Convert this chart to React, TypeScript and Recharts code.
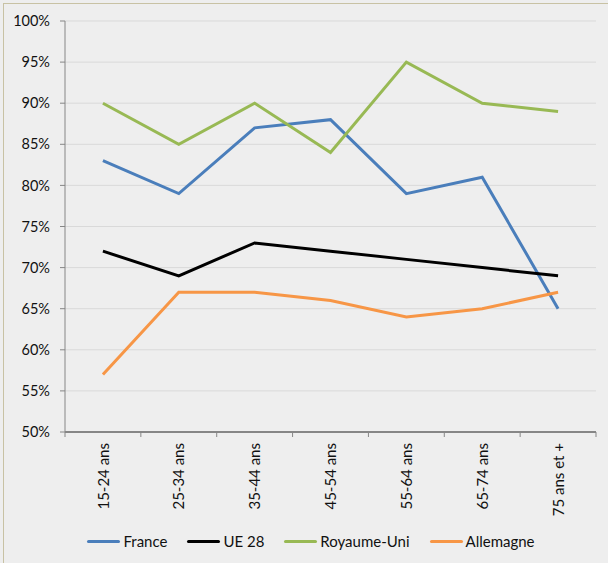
import { LineChart, Line, XAxis, YAxis, CartesianGrid, Legend } from "recharts"

const ageGroups = ["15-24 ans", "25-34 ans", "35-44 ans", "45-54 ans", "55-64 ans", "65-74 ans", "75 ans et +"]
const france = [83, 79, 87, 88, 79, 81, 65]
const ue28 = [72, 69, 73, 72, 71, 70, 69]
const royaumeUni = [90, 85, 90, 84, 95, 90, 89]
const allemagne = [57, 67, 67, 66, 64, 65, 67]
const yTicks = [50, 55, 60, 65, 70, 75, 80, 85, 90, 95, 100]

const seriesList = [
  { key: "France", values: france, color: "#4a7ebb" },
  { key: "UE 28", values: ue28, color: "#000000" },
  { key: "Royaume-Uni", values: royaumeUni, color: "#98b954" },
  { key: "Allemagne", values: allemagne, color: "#f79646" },
]

const data = ageGroups.map((label, i) => {
  const row: Record<string, string | number> = { label }
  seriesList.forEach((s) => (row[s.key] = s.values[i]))
  return row
})

const FONT = "Lato, 'Open Sans', sans-serif"

function AgeTick({ x, y, payload, index }: any) {
  const half = payload?.offset ?? 0
  return (
    <g>
      <line x1={x - half} x2={x - half} y1={y} y2={y + 5} stroke="#868686" />
      {index === ageGroups.length - 1 && (
        <line x1={x + half} x2={x + half} y1={y} y2={y + 5} stroke="#868686" />
      )}
      <text
        x={x}
        y={y + 11}
        dy="0.38em"
        textAnchor="end"
        transform={`rotate(-90, ${x}, ${y + 11})`}
        fontSize={15}
        fontFamily={FONT}
        fill="#111"
      >
        {payload.value}
      </text>
    </g>
  )
}

function LegendBox() {
  return (
    <div style={{ display: "flex", justifyContent: "center", alignItems: "center", fontFamily: FONT, fontSize: 15, color: "#111", paddingLeft: 34 }}>
      {seriesList.map((s) => (
        <div key={s.key} style={{ display: "flex", alignItems: "center", marginRight: 20 }}>
          <span style={{ display: "inline-block", width: 33, height: 3, background: s.color, borderRadius: 2, marginRight: 3 }} />
          <span>{s.key}</span>
        </div>
      ))}
    </div>
  )
}

export default function App() {
  return (
    <div style={{ position: "absolute", left: 0, top: 0, width: 608, height: 563, background: "#eeeeee", overflow: "hidden" }}>
      <div style={{ position: "absolute", left: 3, top: 3, right: 0, bottom: 0, borderLeft: "1px solid #c8c2a4", borderTop: "1px solid #c8c2a4" }} />
      <LineChart width={608} height={563} data={data} margin={{ top: 21, right: 12, left: 0, bottom: 0 }}>
        <CartesianGrid vertical={false} stroke="#d9d9d9" />
        <XAxis
          dataKey="label"
          scale="band"
          interval={0}
          height={91}
          tickLine={false}
          tickSize={0}
          tickMargin={0}
          axisLine={{ stroke: "#868686", strokeWidth: 2 }}
          tick={<AgeTick />}
        />
        <YAxis
          domain={[50, 100]}
          ticks={yTicks}
          width={65}
          tickFormatter={(v) => `${v}%`}
          axisLine={{ stroke: "#868686" }}
          tickLine={{ stroke: "#868686" }}
          tickSize={5}
          tickMargin={10}
          tick={{ fontSize: 14.5, fontFamily: FONT, fill: "#111" }}
        />
        <YAxis yAxisId="frame" orientation="right" width={0} tick={false} tickLine={false} axisLine={{ stroke: "#d9d9d9" }} />
        {seriesList.map((s) => (
          <Line
            key={s.key}
            dataKey={s.key}
            stroke={s.color}
            strokeWidth={3}
            dot={false}
            isAnimationActive={false}
          />
        ))}
        <Legend
          verticalAlign="bottom"
          height={40}
          content={<LegendBox />}
          wrapperStyle={{ top: 532, left: 0, width: 608 }}
        />
      </LineChart>
    </div>
  )
}
